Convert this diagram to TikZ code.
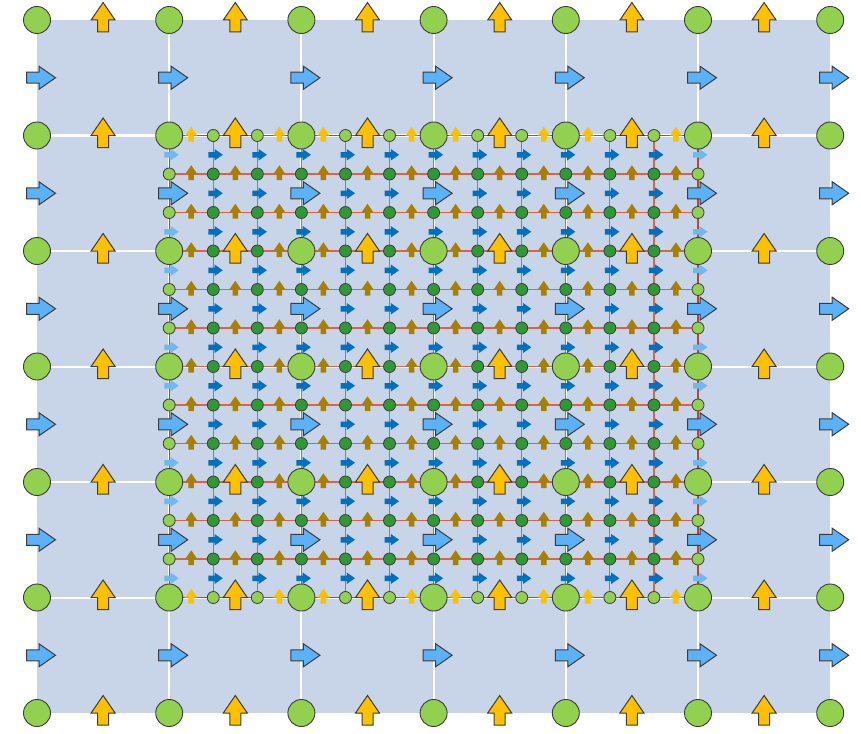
\documentclass[tikz,border=0pt]{standalone}
\usepackage{xcolor}
\usetikzlibrary{calc}
\definecolor{meshbg}{HTML}{C8D4E8}
\definecolor{leafgreen}{HTML}{92D050}
\definecolor{deepgreen}{HTML}{2F9A35}
\definecolor{fluxyellow}{HTML}{FFC000}
\definecolor{fluxsky}{HTML}{5BB2F8}
\definecolor{finegold}{HTML}{A88000}
\definecolor{fineblue}{HTML}{0070C0}
\definecolor{edgesky}{HTML}{70B8F2}
\definecolor{meshred}{HTML}{E0604A}
\definecolor{edgered}{HTML}{B5473A}
\definecolor{outline}{HTML}{3C3C3C}

\tikzset{
    uparr/.pic={\path[pic actions] (-5.5,15) -- (-5.5,3) -- (-12,3) -- (0,-14.5) -- (12,3) -- (5.5,3) -- (5.5,15) -- cycle;},
    rightarr/.pic={\path[pic actions] (-14.5,-5.5) -- (-2,-5.5) -- (-2,-11.5) -- (14.5,0) -- (-2,11.5) -- (-2,5.5) -- (-14.5,5.5) -- cycle;},
}

\begin{document}
\begin{tikzpicture}[
    x=1pt, y=-1pt,
    coarsenode/.style={
        circle, draw=outline, fill=leafgreen,
        line width=0.9pt, minimum size=27pt, inner sep=0pt,
    },
    finenode/.style={
        circle, draw=outline, fill=#1,
        line width=0.8pt, minimum size=12pt, inner sep=0pt,
    },
    bigarrow/.style={draw=outline, line width=1pt, fill=#1},
    smallarrow/.style={fill=#1, scale=0.5},
    whiteline/.style={draw=white, line width=2pt},
    redline/.style={draw=meshred, line width=1.2pt},
]
\useasboundingbox (0,0) rectangle (861,733);

% coarse and fine lattice points
\foreach \i in {0,...,6}
    \foreach \j in {0,...,6}
        \coordinate (c-\i-\j) at ({37+132.2*\i},{20+115.5*\j});
\foreach \k in {0,...,12}
    \foreach \m in {0,...,12}
        \coordinate (f-\k-\m) at ({169.2+44.0667*\k},{135.5+38.5*\m});

% coarse cells
\fill[meshbg] (c-0-0) rectangle (c-6-6);
\foreach \i in {1,...,5} {
    \draw[whiteline] (c-\i-0) -- (c-\i-6);
    \draw[whiteline] (c-0-\i) -- (c-6-\i);
}
\draw[whiteline, line width=3.5pt] (c-0-1) -- (c-6-1);

% refined patch
\foreach \k in {1,...,11} {
    \draw[redline] (f-\k-0) -- (f-\k-12);
    \draw[redline] (f-0-\k) -- (f-12-\k);
}
\draw[edgered, line width=1.3pt] (f-0-0) rectangle (f-12-12);

% fine fluxes
\foreach \k in {0,...,11}
    \foreach \m in {0,...,12} {
        \ifnum\m=0 \def\upcol{fluxyellow}\else\ifnum\m=12 \def\upcol{fluxyellow}\else\def\upcol{finegold}\fi\fi
        \pic[smallarrow=\upcol] at ({169.2+44.0667*(\k+0.5)},{134+38.5*\m}) {uparr};
    }
\foreach \k in {0,...,12}
    \foreach \m in {0,...,11} {
        \ifnum\k=0 \def\rtcol{edgesky}\else\ifnum\k=12 \def\rtcol{edgesky}\else\def\rtcol{fineblue}\fi\fi
        \pic[smallarrow=\rtcol] at ({171.5+44.0667*\k},{135.5+38.5*(\m+0.5)}) {rightarr};
    }

% fine nodes
\foreach \k in {0,...,12}
    \foreach \m in {0,...,12} {
        \pgfmathtruncatemacro\oncoarse{(mod(\k,3)==0)&&(mod(\m,3)==0)}
        \pgfmathtruncatemacro\onrim{(\k==0)||(\k==12)||(\m==0)||(\m==12)}
        \ifnum\oncoarse=0
            \ifnum\onrim=1
                \node[finenode=leafgreen] (n-\k-\m) at (f-\k-\m) {};
            \else
                \node[finenode=deepgreen] (n-\k-\m) at (f-\k-\m) {};
            \fi
        \fi
    }

% coarse fluxes
\foreach \i in {0,...,5}
    \foreach \j in {0,...,6}
        \pic[bigarrow=fluxyellow] at ({37+132.2*(\i+0.5)},{17+115.5*\j}) {uparr};
\foreach \i in {0,...,6}
    \foreach \j in {0,...,5}
        \pic[bigarrow=fluxsky] at ({41+132.2*\i},{20+115.5*(\j+0.5)}) {rightarr};

% coarse nodes
\foreach \i in {0,...,6}
    \foreach \j in {0,...,6}
        \node[coarsenode] (c\i\j) at (c-\i-\j) {};

\end{tikzpicture}
\end{document}
